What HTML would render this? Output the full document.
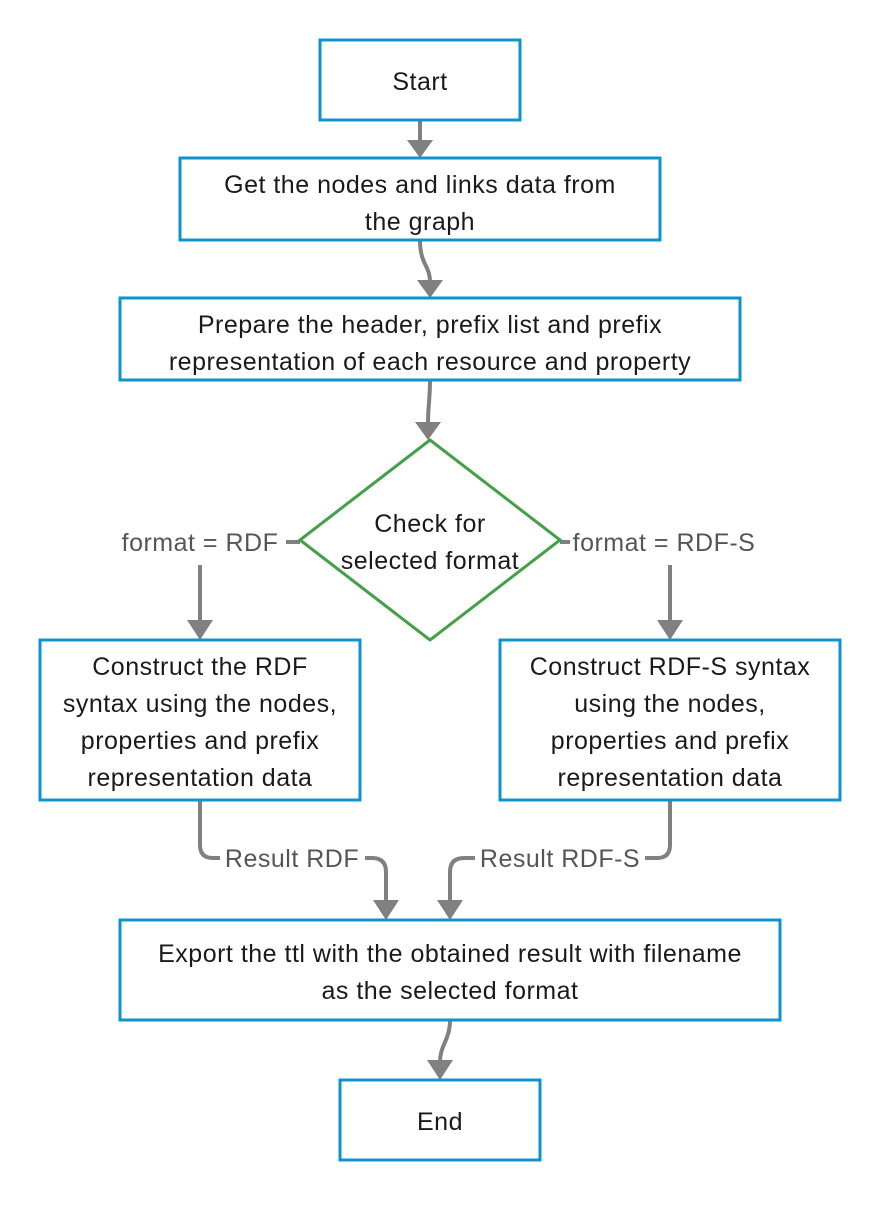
<!DOCTYPE html>
<html><head><meta charset="utf-8"><style>
html,body{margin:0;padding:0;background:#fff}
svg text{font-family:"Liberation Sans",sans-serif;font-size:25px;letter-spacing:0.5px}
</style></head><body>
<svg width="880" height="1200" viewBox="0 0 880 1200" xmlns="http://www.w3.org/2000/svg">
<g fill="none" stroke="#808080" stroke-width="4">
<path d="M420,120 V140"/><path d="M407,140 h26 l-13,18z" fill="#808080" stroke="none"/>
<path d="M420,240 C420,265 430,265 430,282"/><path d="M417,280 h26 l-13,18z" fill="#808080" stroke="none"/>
<path d="M430,380 C430,400 428,405 428,424"/><path d="M415,422 h26 l-13,18z" fill="#808080" stroke="none"/>
<path d="M300,542 H286"/>
<path d="M200,565 V622"/><path d="M187,620 h26 l-13,20z" fill="#808080" stroke="none"/>
<path d="M560,542 H570"/>
<path d="M670,565 V622"/><path d="M657,620 h26 l-13,20z" fill="#808080" stroke="none"/>
<path d="M200,800 V845 Q200,858 213,858 H220"/>
<path d="M365,858 H372 Q386,858 386,872 V902"/><path d="M373,900 h26 l-13,20z" fill="#808080" stroke="none"/>
<path d="M670,800 V845 Q670,858 657,858 H645"/>
<path d="M475,858 H464 Q450,858 450,872 V902"/><path d="M437,900 h26 l-13,20z" fill="#808080" stroke="none"/>
<path d="M450,1020 C450,1040 440,1045 440,1062"/><path d="M427,1060 h26 l-13,20z" fill="#808080" stroke="none"/>
</g>
<g fill="#fff" stroke="#0e93cf" stroke-width="3">
<rect x="320" y="40" width="200" height="80"/>
<rect x="180" y="158" width="480" height="82"/>
<rect x="120" y="298" width="620" height="82"/>
<rect x="40" y="640" width="320" height="160"/>
<rect x="500" y="640" width="340" height="160"/>
<rect x="120" y="920" width="660" height="100"/>
<rect x="340" y="1080" width="200" height="80"/>
</g>
<path d="M430,440 L560,540 L430,640 L300,540 Z" fill="#fff" stroke="#43a047" stroke-width="3"/>
<g fill="#1a1a1a" text-anchor="middle">
<text x="420" y="90">Start</text>
<text x="420" y="193">Get the nodes and links data from</text>
<text x="420" y="230">the graph</text>
<text x="430" y="333">Prepare the header, prefix list and prefix</text>
<text x="430" y="370">representation of each resource and property</text>
<text x="430" y="532">Check for</text>
<text x="430" y="569">selected format</text>
<text x="200" y="675">Construct the RDF</text>
<text x="200" y="712">syntax using the nodes,</text>
<text x="200" y="749">properties and prefix</text>
<text x="200" y="786">representation data</text>
<text x="670" y="675">Construct RDF-S syntax</text>
<text x="670" y="712">using the nodes,</text>
<text x="670" y="749">properties and prefix</text>
<text x="670" y="786">representation data</text>
<text x="450" y="962">Export the ttl with the obtained result with filename</text>
<text x="450" y="999">as the selected format</text>
<text x="440" y="1130">End</text>
</g>
<g fill="#555" text-anchor="middle">
<text x="200" y="551">format = RDF</text>
<text x="664" y="551">format = RDF-S</text>
<text x="292" y="867">Result RDF</text>
<text x="560" y="867">Result RDF-S</text>
</g>
</svg>
</body></html>
